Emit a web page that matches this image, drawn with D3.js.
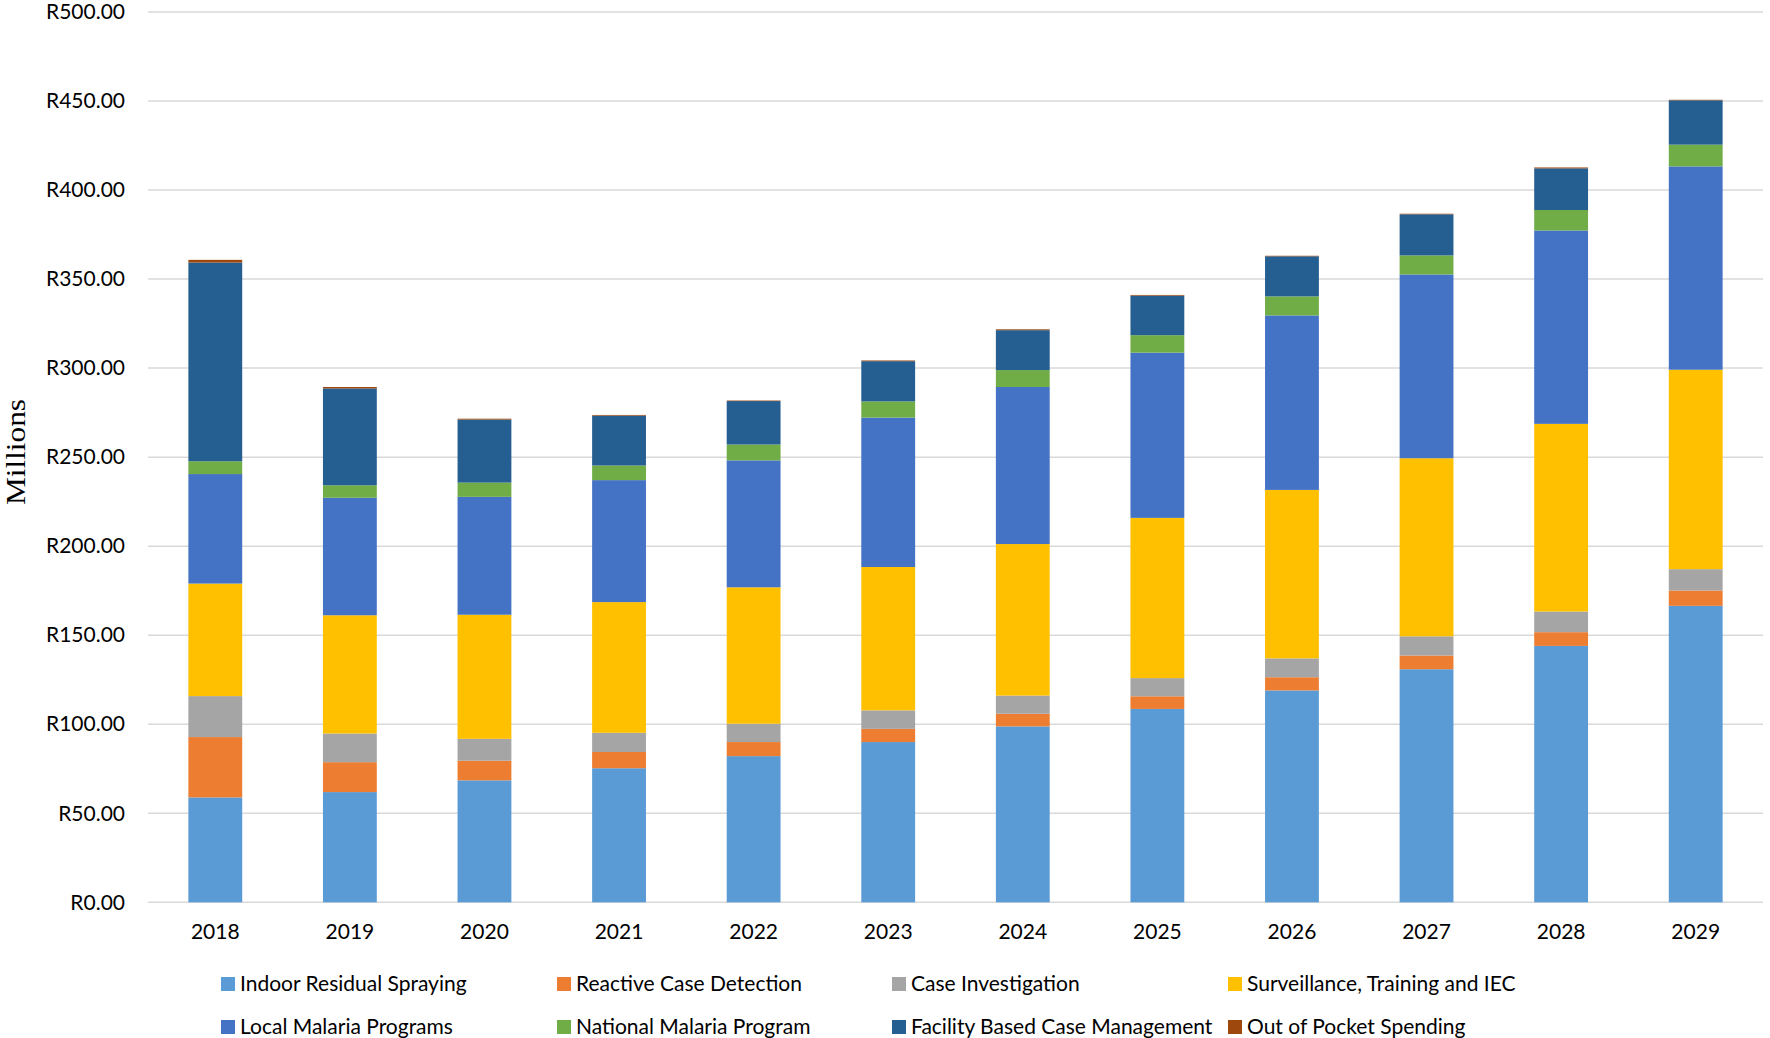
<!DOCTYPE html>
<html>
<head>
<meta charset="utf-8">
<script src="https://cdn.jsdelivr.net/npm/d3@7"></script>
<style>
  html, body { margin: 0; padding: 0; background: #ffffff; }
  svg { display: block; }
</style>
</head>
<body>
<svg id="chart" width="1770" height="1038"></svg>
<script>
// ---- Data (R millions) ----
const years = ["2018","2019","2020","2021","2022","2023","2024","2025","2026","2027","2028","2029"];
const seriesNames = ["Indoor Residual Spraying","Reactive Case Detection","Case Investigation","Surveillance, Training and IEC","Local Malaria Programs","National Malaria Program","Facility Based Case Management","Out of Pocket Spending"];
const indoorResidualSpraying = [58.9, 61.9, 68.5, 75.3, 82.1, 90.0, 98.8, 108.6, 119.0, 130.9, 144.0, 166.5];
const reactiveCaseDetection  = [33.9, 16.8, 11.0, 9.1, 7.9, 7.4, 7.1, 7.1, 7.4, 7.7, 7.7, 8.6];
const caseInvestigation      = [23.0, 16.1, 12.3, 10.8, 10.3, 10.4, 10.2, 10.2, 10.6, 10.8, 11.6, 12.0];
const surveillanceTraining   = [63.2, 66.4, 69.7, 73.4, 76.6, 80.5, 85.1, 90.0, 94.6, 100.0, 105.4, 112.0];
const localMalariaPrograms   = [61.5, 66.0, 66.2, 68.5, 71.3, 83.9, 88.2, 92.8, 98.0, 103.2, 108.6, 114.2];
const nationalMalariaProgram = [7.2, 7.0, 8.0, 8.2, 8.9, 9.1, 9.5, 9.8, 10.7, 10.7, 11.5, 12.2];
const facilityBasedCaseMgmt  = [111.6, 54.4, 35.4, 28.0, 24.4, 22.6, 22.4, 22.2, 22.5, 23.1, 23.4, 24.9];
const outOfPocketSpending    = [1.5, 0.8, 0.5, 0.4, 0.3, 0.4, 0.5, 0.4, 0.3, 0.3, 0.5, 0.3];
const yTicks = [0, 50, 100, 150, 200, 250, 300, 350, 400, 450, 500];
const yTitle = "Millions";
const colors = ["#5B9BD5","#ED7D31","#A5A5A5","#FFC000","#4472C4","#70AD47","#255E91","#9E480E"];

const seriesValues = [indoorResidualSpraying, reactiveCaseDetection, caseInvestigation, surveillanceTraining,
  localMalariaPrograms, nationalMalariaProgram, facilityBasedCaseMgmt, outOfPocketSpending];

// build table for stack
const table = years.map((y, i) => {
  const row = { year: y };
  seriesNames.forEach((s, k) => row[s] = seriesValues[k][i]);
  return row;
});

const svg = d3.select("#chart");
const FONT = "Lato, 'Open Sans', sans-serif";

const x = d3.scaleBand().domain(years).range([148, 1763]).paddingInner(0.6).paddingOuter(0.3);
const y = d3.scaleLinear().domain([0, 500]).range([902.3, 12]);

// gridlines
svg.append("g").selectAll("line").data(yTicks).join("line")
  .attr("x1", 148).attr("x2", 1763)
  .attr("y1", d => y(d)).attr("y2", d => y(d))
  .attr("stroke", "#d9d9d9").attr("stroke-width", 1.5);

// y tick labels
const yAxis = d3.axisLeft(y).tickValues(yTicks).tickSize(0).tickPadding(0)
  .tickFormat(d => "R" + d3.format(".2f")(d));
const gy = svg.append("g").attr("transform", "translate(125,0)").call(yAxis);
gy.select(".domain").remove();
gy.selectAll("text").attr("font-family", FONT).attr("font-size", 21).attr("fill", "#000");

// x labels
const xAxis = d3.axisBottom(x).tickSize(0).tickPadding(0);
const gx = svg.append("g").attr("transform", "translate(0,932)").call(xAxis);
gx.select(".domain").remove();
gx.selectAll("text").attr("font-family", FONT).attr("font-size", 21).attr("fill", "#000").attr("dy", "0.35em");

// stacked bars
const stack = d3.stack().keys(seriesNames);
const layers = stack(table);
svg.append("g").selectAll("g").data(layers).join("g")
  .attr("fill", (d, i) => colors[i])
  .selectAll("rect").data(d => d).join("rect")
  .attr("x", d => x(d.data.year))
  .attr("width", x.bandwidth())
  .attr("y", d => y(d[1]))
  .attr("height", d => y(d[0]) - y(d[1]));

// y title
svg.append("text")
  .attr("transform", "translate(15,452) rotate(-90)")
  .attr("text-anchor", "middle")
  .attr("dominant-baseline", "central")
  .attr("font-family", "'Liberation Serif', 'Times New Roman', serif")
  .attr("font-size", 28)
  .attr("textLength", 106).attr("lengthAdjust", "spacingAndGlyphs")
  .attr("fill", "#000")
  .text(yTitle);

// legend
const legendX = [221, 557, 892, 1228];
const legendY = [984, 1027];
const lg = svg.append("g").selectAll("g").data(seriesNames).join("g")
  .attr("transform", (d, i) => `translate(${legendX[i % 4]},${legendY[Math.floor(i / 4)]})`);
lg.append("rect").attr("x", 0).attr("y", -7).attr("width", 14).attr("height", 14)
  .attr("fill", (d, i) => colors[i]);
lg.append("text").attr("x", 19).attr("y", 0).attr("dy", "0.35em")
  .attr("font-family", FONT).attr("font-size", 21).attr("fill", "#000")
  .text(d => d);
</script>
</body>
</html>
